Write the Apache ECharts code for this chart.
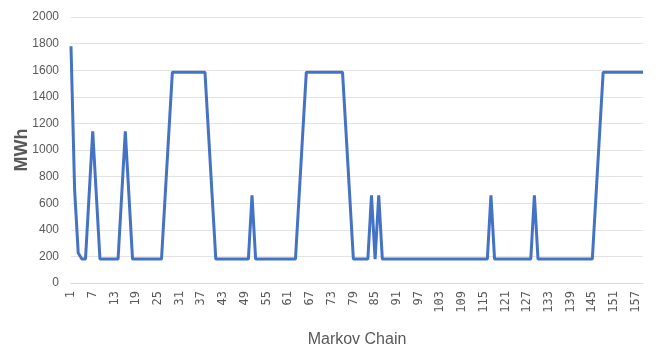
<!DOCTYPE html>
<html><head><meta charset="utf-8">
<script src="https://cdn.jsdelivr.net/npm/echarts@6/dist/echarts.min.js"></script>
<style>html,body{margin:0;padding:0;background:#fff}#c{width:656px;height:348px}</style>
</head><body><div id="c"></div>
<script>
// Values
const categories = [];
for (let i = 1; i <= 159; i++) categories.push(String(i));
const seg1 = [1780, 700, 225, 180, 180, 660, 1140, 660, 180, 180, 180, 180, 180, 180, 660, 1140, 660];
const seg2 = [180, 180, 180, 180, 180, 180, 180, 180, 180, 650, 1120];
const peakA = [1585, 1585, 1585, 1585, 1585, 1585, 1585, 1585, 1585, 1585];
const seg3 = [1120, 650, 180, 180, 180, 180, 180, 180, 180, 180, 180, 180, 660];
const seg4 = [180, 180, 180, 180, 180, 180, 180, 180, 180, 180, 180, 180, 650, 1120];
const peakB = [1585, 1585, 1585, 1585, 1585, 1585, 1585, 1585, 1585, 1585, 1585];
const seg5 = [1120, 650, 180, 180, 180, 180, 180, 660, 180, 660];
const seg6 = [180, 180, 180, 180, 180, 180, 180, 180, 180, 180, 180, 180, 180, 180, 180, 180, 180, 180, 180, 180, 180, 180, 180, 180, 180, 180, 180, 180, 180, 180, 660];
const seg7 = [180, 180, 180, 180, 180, 180, 180, 180, 180, 180, 180, 660];
const seg8 = [180, 180, 180, 180, 180, 180, 180, 180, 180, 180, 180, 180, 180, 180, 180, 180, 650, 1120];
const peakC = [1585, 1585, 1585, 1585, 1585, 1585, 1585, 1585, 1585, 1585, 1585, 1585];
const values = [].concat(seg1, seg2, peakA, seg3, seg4, peakB, seg5, seg6, seg7, seg8, peakC);

const chart = echarts.init(document.getElementById('c'));
chart.setOption({
  animation: false,
  grid: { left: 71, right: 13, top: 17, bottom: 65, containLabel: false, outerBoundsMode: 'none' },
  xAxis: {
    type: 'category', data: categories.slice(0, values.length), boundaryGap: false,
    name: 'Markov Chain', nameLocation: 'middle', nameGap: 49, nameMoveOverlap: false,
    nameTextStyle: { fontFamily: 'Liberation Sans', fontSize: 16, color: '#595959' },
    axisLine: { lineStyle: { color: '#d9d9d9' } },
    axisTick: { show: false },
    axisLabel: { interval: 5, rotate: 90, fontSize: 12, color: '#595959', fontFamily: 'DejaVu Sans Mono', margin: 8 }
  },
  yAxis: {
    type: 'value', min: 0, max: 2000, interval: 200,
    name: 'MWh', nameLocation: 'middle', nameGap: 40, nameRotate: 90, nameMoveOverlap: false,
    nameTextStyle: { fontFamily: 'Liberation Sans', fontSize: 18, fontWeight: 'bold', color: '#595959' },
    axisLine: { show: false }, axisTick: { show: false },
    axisLabel: { fontSize: 12, color: '#595959', fontFamily: 'Liberation Sans', margin: 12, formatter: v => String(v) },
    splitLine: { lineStyle: { color: '#e3e3e3', width: 1 } }
  },
  series: [{
    type: 'line', data: values, showSymbol: false, symbol: 'none',
    lineStyle: { color: '#4472C4', width: 3 }
  }]
});
</script></body></html>
